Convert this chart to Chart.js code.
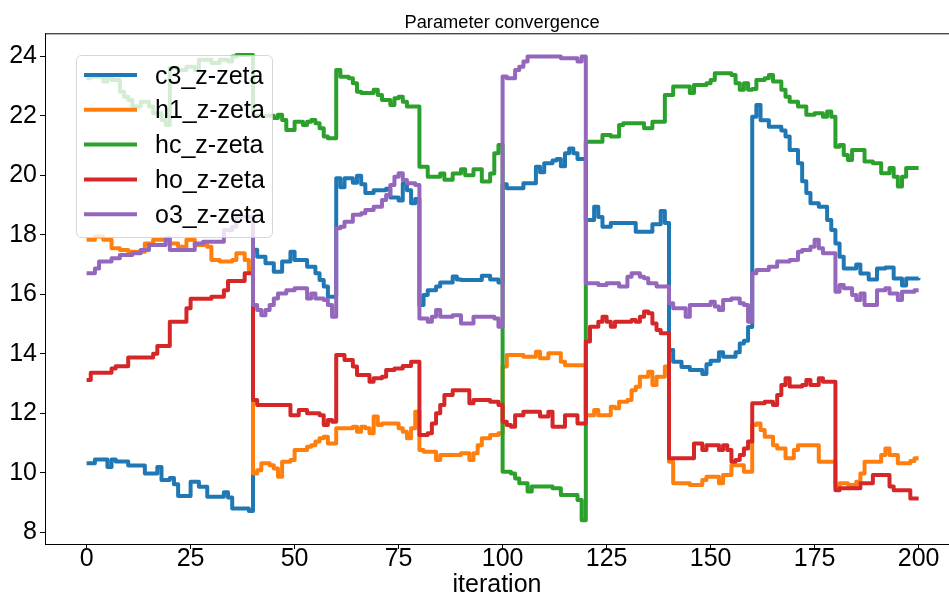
<!DOCTYPE html>
<html lang="en">
<head>
    <meta charset="UTF-8">
    <title>Parameter convergence</title>
    <script src="https://cdn.jsdelivr.net/npm/chart.js"></script>
    <style>
        body {
            margin: 0;
            background: #fff;
        }
        canvas {
            display: block;
        }
    </style>
</head>
<body>

    <canvas id="convChart" width="949" height="598"></canvas>

    <script>
        // [iteration, value] where the value changes; held until the next entry
        const c3Steps = [[0,10.32],[2,10.45],[5,10.2],[6,10.45],[7,10.38],[10,10.25],[14,9.98],[17,10.2],[18,9.76],[20,9.83],[21,9.62],[22,9.22],[25,9.7],[27,9.53],[29,9.2],[33,9.35],[34,9.17],[35,8.8],[39,8.72],
            [40,17.5],[41,17.26],[43,17.04],[45,16.76],[47,17.1],[49,17.43],[50,17.15],[53,16.93],[55,16.71],[56,16.48],[57,16.26],[58,15.92],
            [60,19.9],[61,19.6],[62,19.9],[64,19.75],[65,19.98],[66,19.7],[67,19.4],[69,19.5],[72,19.55],[73,19.25],[75,19.15],[76,19.73],[77,19.5],[78,19.06],[79,19.2],
            [80,15.64],[81,15.98],[82,16.14],[84,16.26],[85,16.4],[88,16.6],[89,16.5],[90,16.48],[95,16.62],[97,16.5],[99,16.4],
            [100,19.7],[101,19.56],[105,19.73],[108,20.29],[109,20.1],[110,20.4],[112,20.5],[113,20.55],[114,20.3],[115,20.74],[116,20.9],[117,20.74],[118,20.55],
            [120,18.5],[122,18.94],[123,18.6],[124,18.27],[126,18.4],[132,18.1],[136,18.35],[138,18.8],[139,18.4],
            [140,14.13],[141,13.73],[143,13.56],[145,13.46],[148,13.32],[149,13.65],[150,13.77],[152,14.05],[153,13.9],[156,14.05],[157,14.35],[158,14.44],[159,14.9],
            [160,21.97],[161,22.36],[162,21.85],[164,21.63],[167,21.5],[168,21.3],[169,20.85],[171,20.4],[172,19.8],[173,19.4],[174,19.06],[176,18.94],[178,18.5],[179,18.16],[180,17.71],[181,17.26],[182,16.87],[185,17.0],[186,16.7],[188,16.5],[190,16.87],[192,16.9],[194,16.53],[196,16.3],[197,16.53],[200,16.55]];

        const h1Steps = [[0,17.83],[2,17.94],[4,17.83],[6,17.55],[8,17.49],[10,17.43],[14,17.71],[16,17.83],[20,17.71],[22,17.6],[24,17.83],[26,17.66],[29,17.6],[30,17.15],[32,17.1],[35,17.15],[36,17.38],[38,17.15],[39,16.82],
            [40,9.98],[41,10.09],[42,10.32],[44,10.26],[45,10.15],[46,9.87],[47,10.37],[49,10.43],[50,10.77],[53,10.88],[54,10.93],[55,11.05],[56,11.16],[57,11.21],[58,10.99],
            [60,11.5],[64,11.55],[65,11.38],[66,11.55],[67,11.5],[68,11.33],[69,11.89],[70,11.61],[71,11.66],[75,11.5],[76,11.38],[77,11.16],[78,11.5],[79,12.05],
            [80,10.77],[81,10.71],[84,10.43],[85,10.6],[90,10.66],[92,10.43],[93,10.66],[94,10.93],[95,11.16],[97,11.27],[99,11.33],
            [100,13.57],[101,13.96],[105,13.9],[108,14.07],[109,13.85],[111,14.02],[114,13.73],[115,13.62],
            [120,11.94],[122,12.11],[123,11.94],[126,12.22],[127,12.17],[128,12.39],[130,12.45],[131,12.78],[132,12.89],[133,13.23],[135,13.4],[136,12.95],[137,13.23],[139,13.57],
            [140,10.37],[141,9.65],[145,9.59],[148,9.76],[149,9.87],[152,9.65],[153,9.93],[155,10.26],[158,10.04],
            [160,11.61],[161,11.66],[162,11.44],[163,11.21],[165,10.93],[166,10.82],[168,10.49],[170,10.77],[171,10.93],[176,10.37],
            [180,9.53],[181,9.65],[183,9.59],[185,9.7],[186,9.98],[187,10.37],[191,10.6],[192,10.82],[193,10.6],[195,10.32],[198,10.4],[199,10.49],[200,10.49]];

        const hcSteps = [[0,23.26],[1,23.31],[4,23.15],[5,23.31],[6,23.2],[8,22.81],[9,22.64],[10,22.53],[11,22.31],[13,22.47],[15,22.31],[16,22.08],[18,21.86],[19,21.69],[20,23.6],[22,23.54],[24,23.65],[26,23.54],[27,23.88],[30,23.77],[32,23.88],[34,23.82],[35,23.99],[36,24.04],
            [40,22.0],[45,21.92],[46,22.03],[47,21.86],[48,21.52],[50,21.8],[52,21.69],[53,21.8],[54,21.86],[55,21.75],[56,21.58],[57,21.3],[58,21.24],
            [60,23.54],[61,23.31],[63,23.26],[64,23.09],[65,22.81],[66,22.76],[69,22.87],[70,22.7],[71,22.53],[73,22.36],[74,22.59],[75,22.64],[76,22.47],[77,22.31],
            [80,20.29],[82,19.95],[85,20.06],[86,19.85],[88,20.06],[90,20.2],[91,20.0],[93,20.2],[95,19.79],[97,20.06],[98,20.74],[99,21.02],
            [100,10.04],[102,9.98],[103,9.81],[104,9.65],[106,9.37],[107,9.54],[112,9.48],[114,9.26],[118,9.09],[119,8.41],
            [120,21.13],[124,21.35],[126,21.3],[128,21.69],[129,21.75],[134,21.58],[136,21.8],[139,22.7],[141,22.98],[145,22.76],[146,23.03],[149,23.09],[150,23.2],[151,23.43],[155,23.37],[156,23.09],[157,22.87],[158,23.09],[159,22.87],
            [160,22.9],[161,23.2],[163,23.26],[164,23.37],[165,23.15],[167,22.87],[168,22.64],[169,22.47],[171,22.31],[173,22.03],[175,22.08],[177,21.97],[178,22.14],[179,21.97],
            [180,20.96],[181,21.02],[182,20.68],[183,20.51],[184,20.85],[187,20.46],[189,20.4],[191,20.07],[193,20.24],[194,19.95],[195,19.62],[196,19.95],[197,20.24],[200,20.24]];

        const hoSteps = [[0,13.12],[1,13.36],[6,13.51],[7,13.58],[10,13.88],[16,14.0],[17,14.26],[20,15.08],[24,15.53],[25,15.85],[30,15.92],[33,16.14],[34,16.45],[38,16.71],
            [40,12.45],[41,12.28],[49,11.94],[51,12.11],[53,12.0],[56,11.94],[57,11.61],[58,11.78],[59,11.72],
            [60,13.96],[62,13.79],[64,13.57],[65,13.29],[68,13.06],[69,13.18],[71,13.23],[72,13.46],[74,13.51],[76,13.59],[78,13.73],
            [80,11.27],[82,11.33],[83,11.66],[84,12.0],[85,12.28],[86,12.62],[88,12.78],[92,12.34],[93,12.45],[97,12.39],[99,12.28],
            [100,11.72],[101,11.61],[102,11.55],[103,11.94],[105,12.05],[109,11.89],[111,12.05],[112,11.55],[115,11.94],[118,11.66],
            [120,14.41],[121,14.91],[123,15.08],[124,15.25],[125,15.08],[126,14.91],[127,15.08],[131,15.14],[132,15.08],[133,15.25],[134,15.42],[135,15.36],[136,15.02],[137,14.8],[138,14.69],
            [140,10.49],[146,10.99],[148,10.77],[149,10.93],[152,10.77],[153,10.93],[154,10.77],[155,10.37],[156,10.43],[157,10.6],[158,10.82],[159,11.05],
            [160,12.34],[163,12.39],[165,12.28],[166,12.62],[167,12.95],[168,13.18],[169,12.9],[172,12.95],[173,13.12],[174,12.95],[176,13.18],[177,13.06],
            [180,9.42],[181,9.48],[186,9.65],[189,9.93],[193,9.54],[194,9.42],[198,9.14],[200,9.14]];

        const o3Steps = [[0,16.71],[2,16.87],[3,17.1],[6,17.21],[8,17.32],[11,17.38],[13,17.49],[15,17.66],[19,17.88],[20,17.49],[26,17.71],[28,17.77],[33,18.16],[35,18.27],[36,18.61],
            [40,15.64],[41,15.47],[42,15.3],[43,15.47],[44,15.64],[45,15.86],[46,16.03],[48,16.14],[50,16.2],[53,15.86],[54,16.03],[55,15.86],[57,15.81],[58,15.64],[59,15.25],
            [60,18.22],[61,18.27],[62,18.44],[64,18.67],[66,18.72],[67,18.83],[69,18.94],[71,19.17],[72,19.34],[73,19.67],[74,19.95],[75,20.07],[76,19.84],[77,19.73],[79,19.67],
            [80,15.19],[82,15.08],[83,15.25],[84,15.47],[85,15.25],[88,15.3],[90,15.02],[93,15.25],[98,15.19],[99,14.91],
            [100,23.32],[101,23.26],[103,23.54],[104,23.65],[105,23.82],[106,23.99],[114,23.93],[118,23.82],[119,23.99],
            [120,16.37],[123,16.31],[125,16.37],[128,16.26],[130,16.59],[131,16.71],[133,16.59],[134,16.54],[135,16.37],[137,16.26],
            [140,15.7],[141,15.53],[144,15.25],[145,15.64],[150,15.75],[151,15.59],[152,15.47],[153,15.81],[155,15.86],[157,15.7],[158,15.64],[159,15.08],
            [160,16.71],[161,16.82],[164,16.93],[166,17.1],[169,17.15],[171,17.43],[172,17.49],[174,17.6],[175,17.83],[176,17.55],[177,17.38],
            [180,16.09],[181,16.31],[182,16.2],[184,15.98],[185,15.81],[186,16.03],[187,15.64],[190,16.14],[192,16.2],[193,16.03],[195,15.81],[196,16.09],[199,16.14],[200,16.14]];

        const seriesNames = ['c3_z-zeta', 'h1_z-zeta', 'hc_z-zeta', 'ho_z-zeta', 'o3_z-zeta'];
        const seriesColors = ['#1f77b4', '#ff7f0e', '#2ca02c', '#d62728', '#9467bd'];
        const xTicks = [0, 25, 50, 75, 100, 125, 150, 175, 200];
        const yTicks = [8, 10, 12, 14, 16, 18, 20, 22, 24];
        const chartTitle = 'Parameter convergence';

        const allSteps = [c3Steps, h1Steps, hcSteps, hoSteps, o3Steps];
        const FONT = '"Liberation Sans", Arial, sans-serif';

        // title, top spine and a matplotlib style legend box drawn over the lines
        const framePlugin = {
            id: 'frame',
            afterDatasetsDraw(chart) {
                const ctx = chart.ctx;
                const a = chart.chartArea;
                ctx.save();
                ctx.strokeStyle = '#000';
                ctx.lineWidth = 1;
                ctx.beginPath();
                ctx.moveTo(a.left, a.top + 0.5);
                ctx.lineTo(a.right, a.top + 0.5);
                ctx.stroke();

                // the original axes box runs past the right edge, so centre on it
                ctx.fillStyle = '#000';
                ctx.font = '18.3px ' + FONT;
                ctx.textAlign = 'center';
                ctx.textBaseline = 'alphabetic';
                ctx.fillText(chartTitle, 502, 28);

                const bx = 76, by = 55, bw = 196, bh = 182, r = 5;
                ctx.beginPath();
                ctx.roundRect(bx + 0.5, by + 0.5, bw, bh, r);
                ctx.fillStyle = 'rgba(255,255,255,0.8)';
                ctx.fill();
                ctx.strokeStyle = 'rgba(204,204,204,0.8)';
                ctx.stroke();

                ctx.font = '25px ' + FONT;
                ctx.textAlign = 'left';
                chart.data.datasets.forEach((ds, i) => {
                    const rowY = 75 + i * 34.8;
                    ctx.strokeStyle = ds.borderColor;
                    ctx.lineWidth = 4;
                    ctx.lineCap = 'butt';
                    ctx.beginPath();
                    ctx.moveTo(84, rowY);
                    ctx.lineTo(137, rowY);
                    ctx.stroke();
                    ctx.fillStyle = '#000';
                    ctx.fillText(ds.label, 155, rowY + 8.5);
                });
                ctx.restore();
            }
        };

        const ctx = document.getElementById('convChart').getContext('2d');

        new Chart(ctx, {
            type: 'line',
            data: {
                datasets: seriesNames.map((name, i) => ({
                    label: name,
                    data: allSteps[i].map(p => ({ x: p[0], y: p[1] })),
                    borderColor: seriesColors[i],
                    backgroundColor: seriesColors[i],
                    borderWidth: 4,
                    borderJoinStyle: 'round',
                    stepped: 'before', // hold the value, then jump at the next entry
                    pointRadius: 0,
                    fill: false,
                    order: seriesNames.length - i // later series on top, like matplotlib
                }))
            },
            options: {
                responsive: false,
                animation: false,
                layout: { padding: { top: 33.3, left: 0, right: 0, bottom: 0 } },
                plugins: {
                    legend: { display: false },
                    tooltip: { enabled: false },
                    title: { display: false }
                },
                scales: {
                    x: {
                        type: 'linear',
                        min: -10,
                        max: 207.3,
                        afterBuildTicks: scale => { scale.ticks = xTicks.map(v => ({ value: v })); },
                        afterFit: scale => { scale.height = 54; },
                        grid: { drawOnChartArea: false, drawTicks: true, tickLength: 5, color: '#000', tickColor: '#000' },
                        border: { display: true, color: '#000', width: 1 },
                        ticks: {
                            color: '#000',
                            padding: -2,
                            maxRotation: 0,
                            font: { family: FONT, size: 25, lineHeight: 1 }
                        },
                        title: {
                            display: true,
                            text: 'iteration',
                            color: '#000',
                            font: { family: FONT, size: 25, lineHeight: 1 },
                            padding: { top: 0, bottom: 0 }
                        }
                    },
                    y: {
                        type: 'linear',
                        min: 7.61,
                        max: 24.77,
                        afterBuildTicks: scale => { scale.ticks = yTicks.map(v => ({ value: v })); },
                        afterFit: scale => { scale.width = 45; },
                        grid: { drawOnChartArea: false, drawTicks: true, tickLength: 5, color: '#000', tickColor: '#000' },
                        border: { display: true, color: '#000', width: 1 },
                        ticks: {
                            color: '#000',
                            padding: 3,
                            font: { family: FONT, size: 25, lineHeight: 1 }
                        }
                    }
                }
            },
            plugins: [framePlugin]
        });
    </script>

</body>
</html>
